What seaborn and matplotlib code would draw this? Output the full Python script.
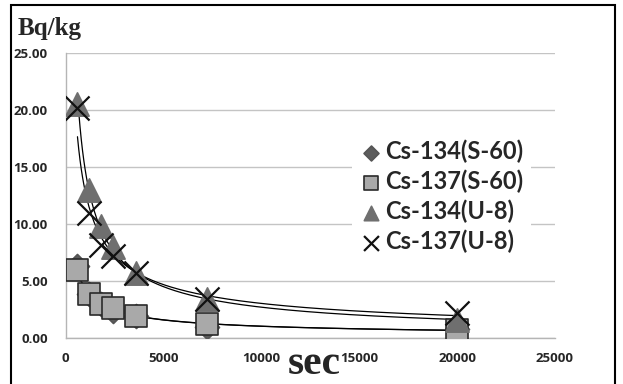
import numpy as np
import pandas as pd
import matplotlib
matplotlib.use("Agg")
import matplotlib.pyplot as plt
import seaborn as sns
from matplotlib.patches import Rectangle

# -----------------------------
# DATA
# -----------------------------
seconds = [600, 1200, 1800, 2400, 3600, 7200, 20000]
cs134_s60 = [6.3, 3.9, 3.0, 2.4, 1.9, 1.0, 0.8]
cs137_s60 = [6.0, 3.9, 3.0, 2.6, 1.9, 1.2, 0.7]
cs134_u8 = [20.5, 13.0, 9.8, 8.0, 5.7, 3.4, 1.6]
cs137_u8 = [20.2, 11.0, 8.2, 7.2, 5.7, 3.4, 2.2]

series_names = ["Cs-134(S-60)", "Cs-137(S-60)", "Cs-134(U-8)", "Cs-137(U-8)"]
series_values = [cs134_s60, cs137_s60, cs134_u8, cs137_u8]

y_ticks = [0, 5, 10, 15, 20, 25]
x_ticks = [0, 5000, 10000, 15000, 20000, 25000]

# -----------------------------
# STYLE
# -----------------------------
sns.set_style("white")
plt.rcParams["font.family"] = ["Lato", "DejaVu Sans"]

markers = {"Cs-134(S-60)": "D", "Cs-137(S-60)": "s",
           "Cs-134(U-8)": "^", "Cs-137(U-8)": "x"}
palette = {"Cs-134(S-60)": "#5c5c5c", "Cs-137(S-60)": "#a9a9a9",
           "Cs-134(U-8)": "#6f6f6f", "Cs-137(U-8)": "#111111"}
sizes = {"Cs-134(S-60)": 150, "Cs-137(S-60)": 260,
         "Cs-134(U-8)": 280, "Cs-137(U-8)": 300}
edges = {"Cs-134(S-60)": "#555555", "Cs-137(S-60)": "#2a2a2a",
         "Cs-134(U-8)": "#6f6f6f", "Cs-137(U-8)": "#111111"}


def build_frame() -> pd.DataFrame:
    rows = []
    for name, vals in zip(series_names, series_values):
        for x, y in zip(seconds, vals):
            rows.append({"sec": x, "value": y, "series": name})
    return pd.DataFrame(rows)


def power_trend(xs, ys) -> pd.DataFrame:
    # power-law trendline fitted to the series (like a spreadsheet trendline)
    b, ln_a = np.polyfit(np.log(xs), np.log(ys), 1)
    grid = np.linspace(min(xs), max(xs), 300)
    return pd.DataFrame({"sec": grid, "value": np.exp(ln_a) * grid ** b})


def main() -> None:
    df = build_frame()

    fig = plt.figure(figsize=(6.23, 3.84), dpi=100)
    ax = fig.add_axes([0.1055, 0.1198, 0.7854, 0.742])

    # trend lines
    for name, vals in zip(series_names, series_values):
        trend = power_trend(seconds, vals)
        sns.lineplot(data=trend, x="sec", y="value", ax=ax, color="black",
                     linewidth=0.9, zorder=3)

    # markers
    for name in series_names:
        sub = df[df["series"] == name]
        kw = dict(color=palette[name], s=sizes[name], marker=markers[name],
                  label=name, ax=ax, zorder=4)
        if markers[name] == "x":
            kw["linewidth"] = 1.6
        else:
            kw["edgecolor"] = edges[name]
            kw["linewidth"] = 1.2
        sns.scatterplot(data=sub, x="sec", y="value", **kw)

    ax.set_xlim(0, 25000)
    ax.set_ylim(0, 25)
    ax.set_xticks(x_ticks)
    ax.set_yticks(y_ticks)
    ax.set_yticklabels([f"{v:.2f}" for v in y_ticks])
    ax.set_xticklabels([str(v) for v in x_ticks])
    ax.set_xlabel("")
    ax.set_ylabel("")

    ax.yaxis.grid(True, color="#c4c4c4", linewidth=1.0)
    ax.xaxis.grid(False)
    for side in ["top", "right"]:
        ax.spines[side].set_visible(False)
    for side in ["left", "bottom"]:
        ax.spines[side].set_color("#b5b5b5")
        ax.spines[side].set_linewidth(1.0)

    ax.tick_params(axis="y", length=4, color="#b5b5b5", pad=9)
    ax.tick_params(axis="x", length=4, color="#b5b5b5", pad=6)
    for lab in ax.get_xticklabels() + ax.get_yticklabels():
        lab.set_fontweight("bold")
        lab.set_fontfamily(["Open Sans", "DejaVu Sans"])
        lab.set_fontsize(9.5)

    # legend
    handles, labels = ax.get_legend_handles_labels()
    leg = ax.legend(handles, labels, loc="center",
                    bbox_to_anchor=(0.768, 0.497), frameon=True,
                    facecolor="white", edgecolor="none", framealpha=1.0,
                    prop={"family": ["Lato", "DejaVu Sans"],
                          "weight": "bold", "size": 17},
                    handletextpad=0.1, labelspacing=0.28,
                    borderpad=0.3, handlelength=1.0, markerscale=0.62)
    leg.set_zorder(5)

    # axis titles
    fig.text(18 / 623, 1 - 35 / 384, "Bq/kg", fontsize=18,
             fontweight="bold", family="Liberation Serif", va="baseline",
             ha="left")
    fig.text(314 / 623, 10 / 384, "sec", fontsize=30, fontweight="bold",
             family="Liberation Serif", va="baseline", ha="center")

    # outer frame
    fig.patches.append(Rectangle((11 / 623, -0.02), (615 - 11) / 623,
                                 1 - 5 / 384 + 0.02,
                                 transform=fig.transFigure, fill=False,
                                 edgecolor="black", linewidth=1.5,
                                 clip_on=False))

    fig.savefig("out.png", dpi=100)
    plt.close(fig)


if __name__ == "__main__":
    main()
